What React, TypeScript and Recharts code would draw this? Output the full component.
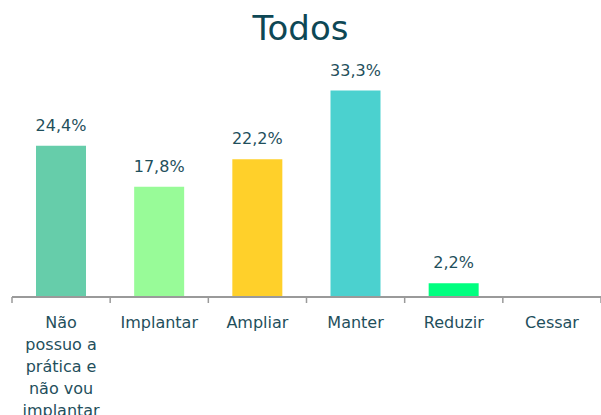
import { BarChart, Bar, XAxis, YAxis, Cell, LabelList, Text } from "recharts";

const categories = [
  "Não possuo a prática e não vou implantar",
  "Implantar",
  "Ampliar",
  "Manter",
  "Reduzir",
  "Cessar",
];
const percents = [24.4, 17.8, 22.2, 33.3, 2.2, 0];
const barColors = ["#66CDAA", "#98FB98", "#FFD02A", "#4BD1CF", "#00FF7F", "#cccccc"];

const data = categories.map((name, i) => ({ name, value: percents[i] }));

const TEXT_COLOR = "#1f4f5c";
const FONT = "'DejaVu Sans', sans-serif";
const CHART_W = 601;
const CHART_H = 415;
const LEFT = 12;
const BAND = (CHART_W - LEFT) / categories.length;

function CategoryTick(props: any) {
  const { x, y, payload, index } = props;
  const left = x - BAND / 2;
  return (
    <g>
      <line x1={left} y1={y - 8} x2={left} y2={y - 2} stroke="#9a9a9a" strokeWidth={1.5} />
      {index === categories.length - 1 && (
        <line x1={left + BAND} y1={y - 8} x2={left + BAND} y2={y - 2} stroke="#9a9a9a" strokeWidth={1.5} />
      )}
      <Text
        x={x}
        y={y + 12}
        width={82}
        textAnchor="middle"
        verticalAnchor="start"
        lineHeight={22}
        fill={TEXT_COLOR}
        style={{ fontSize: 16, fontFamily: FONT }}
      >
        {payload.value}
      </Text>
    </g>
  );
}

const fmt = (v: any) => (v ? `${Number(v).toFixed(1).replace(".", ",")}%` : "");

export default function App() {
  return (
    <div style={{ position: "absolute", left: 0, top: 0, width: CHART_W, height: CHART_H, background: "#fff", overflow: "hidden" }}>
      <div
        style={{
          position: "absolute",
          left: 0,
          top: 6,
          width: CHART_W,
          textAlign: "center",
          fontFamily: FONT,
          fontSize: 34,
          lineHeight: "44px",
          color: "#0d4755",
        }}
      >
        Todos
      </div>
      <BarChart
        width={CHART_W}
        height={CHART_H}
        data={data}
        margin={{ top: 49, right: 0, left: LEFT, bottom: 0 }}
        barSize={50}
      >
        <YAxis hide domain={[0, 40]} />
        <XAxis
          dataKey="name"
          height={118}
          interval={0}
          tickLine={false}
          axisLine={{ stroke: "#9a9a9a", strokeWidth: 2 }}
          tick={<CategoryTick />}
        />
        <Bar dataKey="value" isAnimationActive={false}>
          {data.map((d, i) => (
            <Cell key={d.name} fill={barColors[i]} />
          ))}
          <LabelList
            dataKey="value"
            position="top"
            offset={15}
            formatter={fmt}
            style={{ fontSize: 16, fontFamily: FONT, fill: TEXT_COLOR }}
          />
        </Bar>
      </BarChart>
    </div>
  );
}
